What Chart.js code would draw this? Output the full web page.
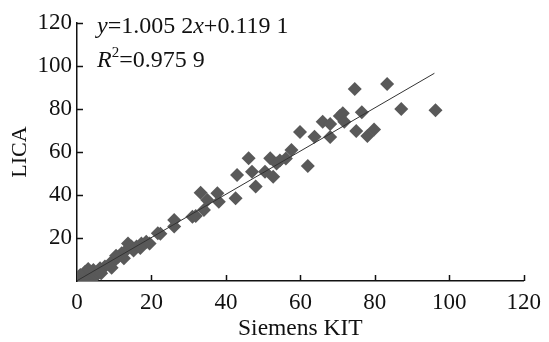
<!DOCTYPE html>
<html>
<head>
<meta charset="utf-8">
<script src="https://cdn.jsdelivr.net/npm/chart.js@4"></script>
<style>
  html, body { margin: 0; padding: 0; background: #fff; }
  #wrap { width: 549px; height: 342px; }
</style>
</head>
<body>
<div id="wrap"><canvas id="myChart" width="549" height="342"></canvas></div>
<script>
// Siemens KIT vs LICA
let kitX = [0, 1.2, 0.9, 2.5, 2.2, 3.5, 4, 4.4, 5.3, 5.5, 6.2, 7.5, 8.9, 10.2, 11.1, 12, 13.3, 13.7, 14.6, 16,
  17.3, 18.6, 19.5, 21.7, 22.4, 26.1, 26.1, 31, 31.9, 34.1, 33.2, 35, 37.7, 38.1, 42.6, 43, 47, 48, 46.1,
  50.5, 51.9, 52.7, 53.6, 54.5, 56.1, 57.6, 59.9, 62, 63.8, 66, 68, 68, 70.6, 71.4, 71.8, 74.6, 75, 76.5,
  78, 79.8, 83.3, 87.1, 96.3,
  3, 6.5, 9.3, 10.5, 12.6, 15.2, 17, 2];
let licaY = [0.8, 1.5, 2.8, 3, 4.3, 2, 1.5, 5.1, 2.8, 4, 5.9, 6.7, 8.2, 9.8, 11.3, 12.9, 14.4, 17.5, 16, 16,
  17.5, 18.3, 17.5, 22.2, 22, 25.3, 28.4, 29.9, 30.2, 33, 41, 37.7, 40.8, 36.9, 38.5, 49.3, 50.8, 43.9, 57.1,
  50.8, 57.1, 48.5, 54.7, 56, 57, 60.9, 69.3, 53.5, 67.1, 74.1, 73, 67, 76.7, 78, 74.1, 89.3, 69.8, 78.5,
  67.4, 70.5, 91.6, 80, 79.4,
  5.6, 3.6, 6.2, 11.8, 10.6, 14.2, 15.4, 0.2];

// fitted line as printed on the chart
let slope = 1.0052;
let intercept = 0.1191;
let fitRange = [0, 96];

let xTicks = [0, 20, 40, 60, 80, 100, 120];
let yTicks = [20, 40, 60, 80, 100, 120];

let serif = "'Liberation Serif', 'Times New Roman', serif";
let ink = '#111';

let points = kitX.map((v, i) => ({x: v, y: licaY[i]}));
let fitLine = fitRange.map(v => ({x: v, y: slope * v + intercept}));

// little tick marks pointing into the plot, plus the equation text
let innerTicks = {
  id: 'innerTicks',
  afterDraw(chart) {
    let ctx = chart.ctx;
    let xs = chart.scales.x, ys = chart.scales.y;
    let a = chart.chartArea;
    ctx.save();
    ctx.strokeStyle = ink;
    ctx.lineWidth = 1.5;
    ctx.beginPath();
    xTicks.forEach(v => {
      if (v == 0) return;
      let px = Math.round(xs.getPixelForValue(v)) + 0.5;
      ctx.moveTo(px, a.bottom);
      ctx.lineTo(px, a.bottom - 6);
    });
    yTicks.forEach(v => {
      let py = Math.round(ys.getPixelForValue(v)) + 0.5;
      ctx.moveTo(a.left, py);
      ctx.lineTo(a.left + 6, py);
    });
    ctx.stroke();

    // equation
    ctx.fillStyle = ink;
    ctx.textBaseline = 'alphabetic';
    let fs = 24;
    let x0 = a.left + 20;
    let runs = [
      [['y', true], ['=1.005 2', false], ['x', true], ['+0.119 1', false]],
      [['R', true], ['sup2', false], ['=0.975 9', false]]
    ];
    let baselines = [a.top + 10, a.top + 44];
    runs.forEach((line, li) => {
      let cx = x0;
      line.forEach(([txt, it]) => {
        if (txt == 'sup2') {
          ctx.font = '15px ' + serif;
          ctx.fillText('2', cx, baselines[li] - 10);
          cx += ctx.measureText('2').width;
          return;
        }
        ctx.font = (it ? 'italic ' : '') + fs + 'px ' + serif;
        ctx.fillText(txt, cx, baselines[li]);
        cx += ctx.measureText(txt).width;
      });
    });
    ctx.restore();
  }
};

new Chart(document.getElementById('myChart'), {
  type: 'scatter',
  data: {
    datasets: [{
      label: 'LICA',
      data: points,
      pointStyle: 'rectRot',
      pointRadius: 7,
      pointHoverRadius: 7,
      backgroundColor: '#595959',
      borderColor: '#595959',
      borderWidth: 0,
      order: 2
    }, {
      type: 'line',
      label: 'fit',
      data: fitLine,
      borderColor: '#333',
      borderWidth: 1,
      pointRadius: 0,
      fill: false,
      order: 1
    }]
  },
  options: {
    responsive: false,
    animation: false,
    layout: {padding: {left: 0, right: 21, top: 23, bottom: 0}},
    plugins: {legend: {display: false}, tooltip: {enabled: false}},
    scales: {
      x: {
        type: 'linear',
        min: 0, max: 120,
        afterBuildTicks: s => { s.ticks = xTicks.map(v => ({value: v})); },
        afterFit: s => { s.height = 61; },
        grid: {display: false, drawTicks: false},
        border: {display: true, color: ink, width: 1.5},
        ticks: {color: ink, padding: 8, maxRotation: 0, font: {family: serif, size: 23}},
        title: {display: true, text: 'Siemens KIT', color: ink, padding: {top: 0, bottom: 1},
          font: {family: serif, size: 23.5, lineHeight: 1}}
      },
      y: {
        type: 'linear',
        min: 0, max: 120,
        afterBuildTicks: s => { s.ticks = yTicks.map(v => ({value: v})); },
        afterFit: s => { s.width = 77; },
        grid: {display: false, drawTicks: false},
        border: {display: true, color: ink, width: 1.5},
        ticks: {color: ink, padding: 5, font: {family: serif, size: 23}},
        title: {display: true, text: 'LICA', color: ink, padding: {top: 9, bottom: 0},
          font: {family: serif, size: 22, lineHeight: 1}}
      }
    }
  },
  plugins: [innerTicks]
});
</script>
</body>
</html>
